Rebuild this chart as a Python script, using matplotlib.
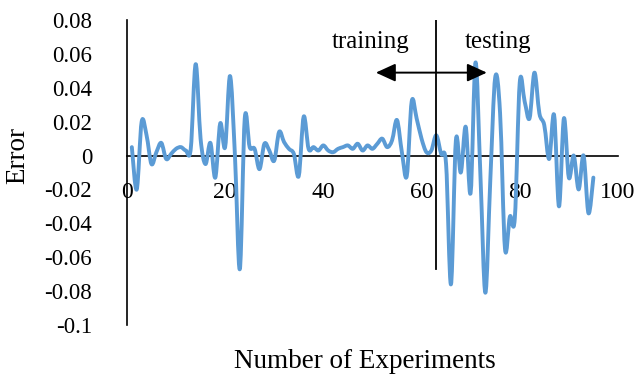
import matplotlib
matplotlib.use('Agg')
import matplotlib.pyplot as plt
from matplotlib.path import Path
from matplotlib.patches import PathPatch
import numpy as np

plt.rcParams['font.family'] = ['Liberation Serif', 'DejaVu Serif']

# values
experiments = list(range(1, 96))
error = [0.005, -0.020, 0.020, 0.012, -0.005, 0.002, 0.0075, -0.002, 0.001, 0.004,
         0.005, 0.003, 0.004, 0.054, 0.010, -0.005, 0.0075, -0.013, 0.019, 0.005,
         0.047, 0.000, -0.067, 0.022, 0.005, 0.004, -0.008, 0.007, 0.003, -0.003,
         0.014, 0.008, 0.004, 0.001, -0.012, 0.023, 0.004, 0.005, 0.003, 0.006,
         0.003, 0.002, 0.004, 0.005, 0.006, 0.004, 0.007, 0.003, 0.006, 0.004,
         0.007, 0.010, 0.005, 0.009, 0.021, 0.002, -0.012, 0.032, 0.022, 0.010,
         0.002, 0.003, 0.012, 0.001, -0.005, -0.076, 0.009, -0.010, 0.017, -0.022,
         0.055, -0.012, -0.081, -0.015, 0.046, 0.025, -0.055, -0.036, -0.037, 0.043,
         0.032, 0.022, 0.049, 0.025, 0.018, -0.002, 0.024, -0.030, 0.022, -0.013,
         0.000, -0.020, 0.000, -0.034, -0.013]

y_ticks = [-0.1, -0.08, -0.06, -0.04, -0.02, 0, 0.02, 0.04, 0.06, 0.08]
y_labels = ['-0.1', '-0.08', '-0.06', '-0.04', '-0.02', '0', '0.02', '0.04', '0.06', '0.08']
x_ticks = [0, 20, 40, 60, 80, 100]
x_labels = ['0', '20', '40', '60', '80', '100']

split_x = 63


def smooth_path(xs, ys):
    # Excel-like smoothed line: Catmull-Rom through the points as cubic Beziers
    pts = np.column_stack([xs, ys]).astype(float)
    n = len(pts)
    verts = [pts[0]]
    codes = [Path.MOVETO]
    for i in range(n - 1):
        p0 = pts[i - 1] if i > 0 else pts[i]
        p1 = pts[i]
        p2 = pts[i + 1]
        p3 = pts[i + 2] if i + 2 < n else pts[i + 1]
        verts += [p1 + (p2 - p0) / 6, p2 - (p3 - p1) / 6, p2]
        codes += [Path.CURVE4] * 3
    return Path(verts, codes)


fig = plt.figure(figsize=(6.41, 3.80), dpi=100)
ax = fig.add_axes([0.198, 0.145, 0.766, 0.802])

line = PathPatch(smooth_path(experiments, error), facecolor='none',
                 edgecolor='#5B9BD5', lw=2.8, joinstyle='round', capstyle='round',
                 transform=ax.transData, zorder=3)
ax.add_patch(line)

ax.set_xlim(0, 100)
ax.set_ylim(-0.1, 0.08)

ax.spines['top'].set_visible(False)
ax.spines['right'].set_visible(False)
ax.spines['bottom'].set_position(('data', 0))
ax.spines['bottom'].set_linewidth(1.2)
ax.spines['left'].set_linewidth(1.2)
ax.spines['bottom'].set_zorder(2)

ax.set_yticks(y_ticks)
ax.set_yticklabels(y_labels)
ax.set_xticks(x_ticks)
ax.set_xticklabels(x_labels)
ax.tick_params(axis='y', length=0, pad=25, labelsize=16.5)
ax.tick_params(axis='x', length=0, pad=19, labelsize=17)

# training / testing split
ax.plot([split_x, split_x], [0.08, -0.067], color='black', lw=1.3, zorder=4)
ax.annotate('', xy=(50.7, 0.049), xytext=(73.3, 0.049),
            arrowprops=dict(arrowstyle='<|-|>,head_length=1.2,head_width=0.55',
                            color='black', lw=1.4, shrinkA=0, shrinkB=0), zorder=5)
ax.text(49.6, 0.067, 'training', ha='center', va='center', fontsize=18)
ax.text(75.6, 0.067, 'testing', ha='center', va='center', fontsize=18)

fig.text(365 / 641, 1 - 362 / 380, 'Number of Experiments', ha='center', va='center', fontsize=19.5)
fig.text(18 / 641, 1 - 155 / 380, 'Error', ha='center', va='center', rotation=90, fontsize=19.5)

plt.savefig('out.png', dpi=100)
plt.close(fig)
